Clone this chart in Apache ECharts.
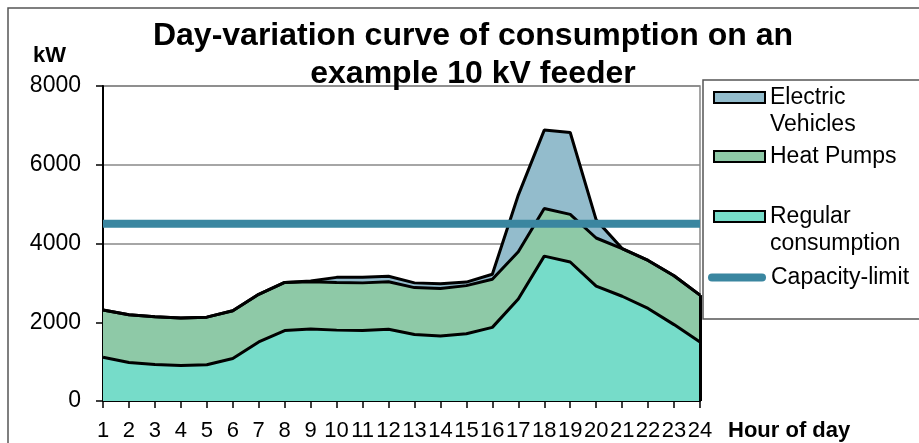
<!DOCTYPE html>
<html>
<head>
<meta charset="utf-8">
<script src="https://cdn.jsdelivr.net/npm/echarts@6/dist/echarts.min.js"></script>
<style>
html,body{margin:0;padding:0;background:#fff;}
#chart{width:919px;height:443px;}
</style>
</head>
<body>
<div id="chart"></div>
<script>
const hours = ['1','2','3','4','5','6','7','8','9','10','11','12','13','14','15','16','17','18','19','20','21','22','23','24'];
const regularConsumption = [1110, 980, 930, 900, 920, 1080, 1500, 1790, 1830, 1800, 1790, 1820, 1690, 1650, 1710, 1870, 2590, 3680, 3530, 2920, 2660, 2350, 1940, 1500];
const heatPumps = [1200, 1210, 1210, 1210, 1210, 1210, 1210, 1220, 1200, 1210, 1210, 1210, 1190, 1210, 1220, 1220, 1200, 1210, 1210, 1220, 1210, 1220, 1240, 1190];
const electricVehicles = [0, 0, 0, 0, 0, 0, 0, 0, 20, 130, 140, 140, 120, 120, 90, 130, 1440, 1990, 2080, 460, 0, 0, 0, 0];
const capacityLimit = [4500, 4500, 4500, 4500, 4500, 4500, 4500, 4500, 4500, 4500, 4500, 4500, 4500, 4500, 4500, 4500, 4500, 4500, 4500, 4500, 4500, 4500, 4500, 4500];
const yTicks = [0, 2000, 4000, 6000, 8000];

const FONT = "'Liberation Sans', Arial, sans-serif";
const C_EV = '#93bccc';
const C_HP = '#8ec9a7';
const C_REG = '#76dcc9';
const C_CAP = '#3a86a0';

const last = hours.length - 1;
const topAtEnd = regularConsumption[last] + heatPumps[last] + electricVehicles[last];

const chart = echarts.init(document.getElementById('chart'));
const legendText = { fontSize: 23, fontFamily: FONT, color: '#000', lineHeight: 27 };
const boxIcon = (c) => ({ color: c, borderColor: '#000', borderWidth: 2 });

chart.setOption({
  animation: false,
  backgroundColor: '#fff',
  title: {
    text: 'Day-variation curve of consumption on an\nexample 10 kV feeder',
    left: 473,
    textAlign: 'center',
    top: 17,
    padding: 0,
    textStyle: { fontSize: 32, fontWeight: 'bold', fontFamily: FONT, color: '#000', lineHeight: 38 }
  },
  grid: {
    left: 103, right: 219, top: 86, bottom: 42,
    show: true, borderColor: '#888', borderWidth: 1.5, backgroundColor: 'transparent'
  },
  legend: [
    { data: [{ name: 'Electric Vehicles', icon: 'rect', itemStyle: boxIcon(C_EV) }],
      formatter: () => '\nElectric\nVehicles',
      left: 713, top: 57, padding: 0, itemWidth: 51, itemHeight: 11, selectedMode: false, textStyle: legendText },
    { data: [{ name: 'Heat Pumps', icon: 'rect', itemStyle: boxIcon(C_HP) }],
      left: 713, top: 143, padding: 0, itemWidth: 51, itemHeight: 11, selectedMode: false, textStyle: legendText },
    { data: [{ name: 'Regular consumption', icon: 'rect', itemStyle: boxIcon(C_REG) }],
      formatter: () => '\nRegular\nconsumption',
      left: 713, top: 176, padding: 0, itemWidth: 51, itemHeight: 11, selectedMode: false, textStyle: legendText },
    { data: [{ name: 'Capacity-limit',
               icon: 'path://M4,0 L54,0 A4,4 0 0 1 54,8 L4,8 A4,4 0 0 1 4,0 Z',
               itemStyle: { color: C_CAP, borderWidth: 0 } }],
      left: 708, top: 264, padding: 0, itemWidth: 58, itemHeight: 8, selectedMode: false, textStyle: legendText }
  ],
  xAxis: {
    type: 'category',
    data: hours,
    boundaryGap: false,
    axisLine: { lineStyle: { color: '#000', width: 2 } },
    axisTick: { show: true, length: 7, interval: 0, lineStyle: { color: '#000', width: 1.5 } },
    axisLabel: { interval: 0, margin: 19, fontSize: 22, fontFamily: FONT, color: '#000' },
    splitLine: { show: false }
  },
  yAxis: {
    type: 'value',
    min: yTicks[0],
    max: yTicks[yTicks.length - 1],
    interval: yTicks[1] - yTicks[0],
    axisLine: { show: true, lineStyle: { color: '#000', width: 2 } },
    axisTick: { show: true, length: 7, lineStyle: { color: '#000', width: 1.5 } },
    axisLabel: { margin: 22, fontSize: 23, fontFamily: FONT, color: '#000', formatter: (v) => String(v) },
    splitLine: { lineStyle: { color: '#888', width: 1.5 } }
  },
  graphic: [
    { type: 'rect', shape: { x: 8, y: 8, width: 1000, height: 1000 }, style: { fill: 'none', stroke: '#555', lineWidth: 1.5 }, z: 0, silent: true },
    { type: 'rect', shape: { x: 703, y: 80, width: 300, height: 239 }, style: { fill: 'none', stroke: '#555', lineWidth: 1.5 }, z: 0, silent: true },
    { type: 'text', left: 33, top: 45, style: { text: 'kW', fontSize: 22, fontWeight: 'bold', fontFamily: FONT, fill: '#000' }, silent: true },
    { type: 'text', left: 728, top: 420, style: { text: 'Hour of day', fontSize: 22, fontWeight: 'bold', fontFamily: FONT, fill: '#000' }, silent: true }
  ],
  series: [
    {
      name: 'Regular consumption', type: 'line', stack: 'load', data: regularConsumption,
      symbol: 'none', lineStyle: { color: '#000', width: 3 }, itemStyle: { color: C_REG },
      areaStyle: { color: C_REG, opacity: 1 }, z: 2,
      markLine: {
        silent: true, symbol: 'none', label: { show: false },
        lineStyle: { color: '#000', width: 3, type: 'solid' },
        data: [[{ coord: [hours[last], 0] }, { coord: [hours[last], topAtEnd] }]]
      }
    },
    {
      name: 'Heat Pumps', type: 'line', stack: 'load', data: heatPumps,
      symbol: 'none', lineStyle: { color: '#000', width: 3 }, itemStyle: { color: C_HP },
      areaStyle: { color: C_HP, opacity: 1 }, z: 2
    },
    {
      name: 'Electric Vehicles', type: 'line', stack: 'load', data: electricVehicles,
      symbol: 'none', lineStyle: { color: '#000', width: 3 }, itemStyle: { color: C_EV },
      areaStyle: { color: C_EV, opacity: 1 }, z: 2
    },
    {
      name: 'Capacity-limit', type: 'line', data: capacityLimit,
      symbol: 'none', lineStyle: { color: C_CAP, width: 8 }, itemStyle: { color: C_CAP }, z: 4
    }
  ]
});
</script>
</body>
</html>
